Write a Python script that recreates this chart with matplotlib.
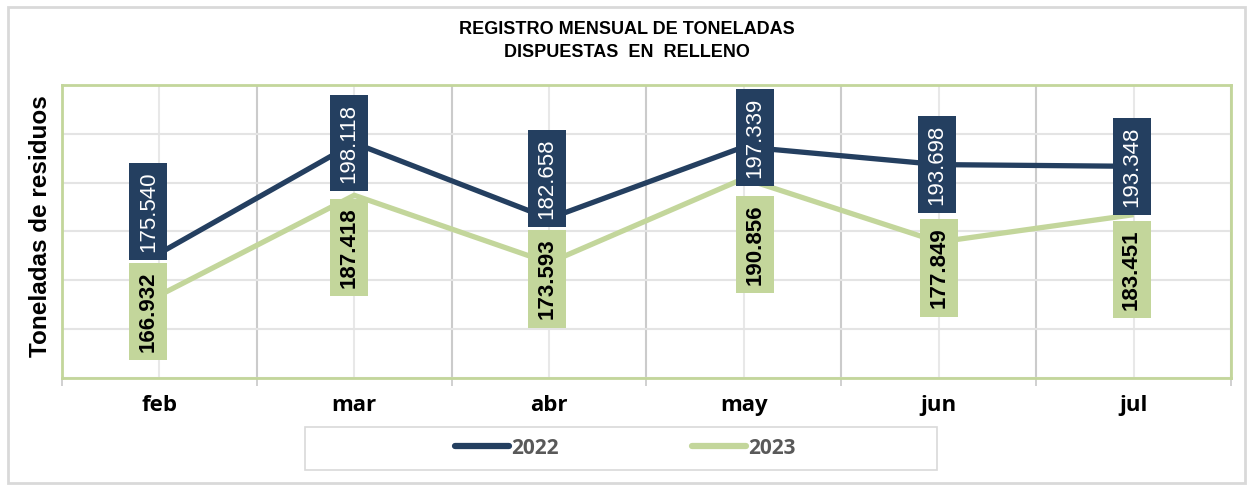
import numpy as np
import matplotlib.pyplot as plt
from matplotlib.patches import Rectangle
from matplotlib.lines import Line2D

# datos
meses = ['feb', 'mar', 'abr', 'may', 'jun', 'jul']
ton_2022 = [175540, 198118, 182658, 197339, 193698, 193348]
ton_2023 = [166932, 187418, 173593, 190856, 177849, 183451]
series = ['2022', '2023']

# estilo
c22 = '#243F60'
c23 = '#C3D69B'
# desplazamiento de etiquetas en px (dx, dy hacia arriba)
off_22 = [(-11, 42), (-5, 0), (-2, 40), (11, 9), (-2, 0), (-2, 0)]
off_23 = [(-11, -16), (-5, -52), (-2, -16), (11, -66), (0, -26), (-2, -55)]

W, H = 1252, 486
fig = plt.figure(figsize=(W / 100, H / 100), dpi=100)
ax = fig.add_axes([62 / W, 1 - 378 / H, (1231 - 62) / W, (378 - 85) / H])

x = np.arange(len(meses))
ax.plot(x, ton_2022, color=c22, lw=3.8, zorder=3, solid_capstyle='butt')
ax.plot(x, ton_2023, color=c23, lw=3.8, zorder=2, solid_capstyle='butt')

ax.set_xlim(-0.5, len(meses) - 0.5)
ax.set_ylim(150000, 210000)
ax.set_yticks(np.arange(150000, 210001, 10000))
ax.set_yticklabels([])
ax.tick_params(axis='y', length=0)

ax.set_xticks(x)
ax.set_xticklabels(meses, fontsize=16, fontweight='bold', family=['Open Sans', 'DejaVu Sans'])
ax.tick_params(axis='x', which='major', length=0, pad=12)
ax.set_xticks(np.arange(-0.5, len(meses)), minor=True)
ax.tick_params(axis='x', which='minor', length=6, color='#c8c8c8', width=1.2)

ax.grid(axis='y', color='#e4e4e4', lw=1.5, zorder=0)
ax.grid(axis='x', which='major', color='#e8e8e8', lw=1.5, zorder=0)
ax.grid(axis='x', which='minor', color='#cbcbcb', lw=1.5, zorder=0)
ax.set_axisbelow(True)
for s in ax.spines.values():
    s.set_color(c23)
    s.set_linewidth(2)

ax.set_ylabel('Toneladas de residuos', fontsize=17.5, fontweight='bold',
              family=['Liberation Sans', 'DejaVu Sans'])
ax.yaxis.set_label_coords(-10 / (1231 - 62), 0.52)


def etiquetas(vals, offs, fc, tc, peso):
    for i, v in enumerate(vals):
        dx, dy = offs[i]
        ax.annotate(f'{v / 1000:.3f}', (x[i], v), xytext=(dx * 0.72, dy * 0.72),
                    textcoords='offset points', rotation=90, ha='center', va='center',
                    fontsize=16, color=tc, fontweight=peso,
                    family=['Liberation Sans', 'DejaVu Sans'], zorder=5,
                    bbox=dict(boxstyle='square,pad=0.38', fc=fc, ec='none'))


etiquetas(ton_2022, off_22, c22, 'white', 'normal')
etiquetas(ton_2023, off_23, c23, 'black', 'bold')

fig.text(627 / W, 1 - 41 / H, 'REGISTRO MENSUAL DE TONELADAS\nDISPUESTAS  EN  RELLENO',
         ha='center', va='center', fontsize=13, fontweight='bold', linespacing=1.45,
         family=['Liberation Sans Narrow', 'Liberation Sans', 'DejaVu Sans'])

# leyenda
fig.patches.append(Rectangle((305 / W, 1 - 470 / H), (937 - 305) / W, 43 / H,
                             transform=fig.transFigure, fill=False, ec='#d9d9d9', lw=1.2))
handles = [Line2D([], [], color=c22, lw=4.5, solid_capstyle='round'),
           Line2D([], [], color=c23, lw=4.5, solid_capstyle='round')]
leg = fig.legend(handles, series, loc='center', bbox_to_anchor=(625 / W, 1 - 448 / H),
                 ncol=2, frameon=False, handlelength=2.6, handletextpad=0.1,
                 columnspacing=6.4, prop=dict(family='Open Sans', size=15))
for t in leg.get_texts():
    t.set_color('#595959')
    t.set_fontweight('bold')

# marco exterior
fig.patches.append(Rectangle((8 / W, 3 / H), (1245 - 8) / W, (481 - 5) / H,
                             transform=fig.transFigure, fill=False, ec='#d9d9d9', lw=2))

fig.savefig('out.png', dpi=100)
